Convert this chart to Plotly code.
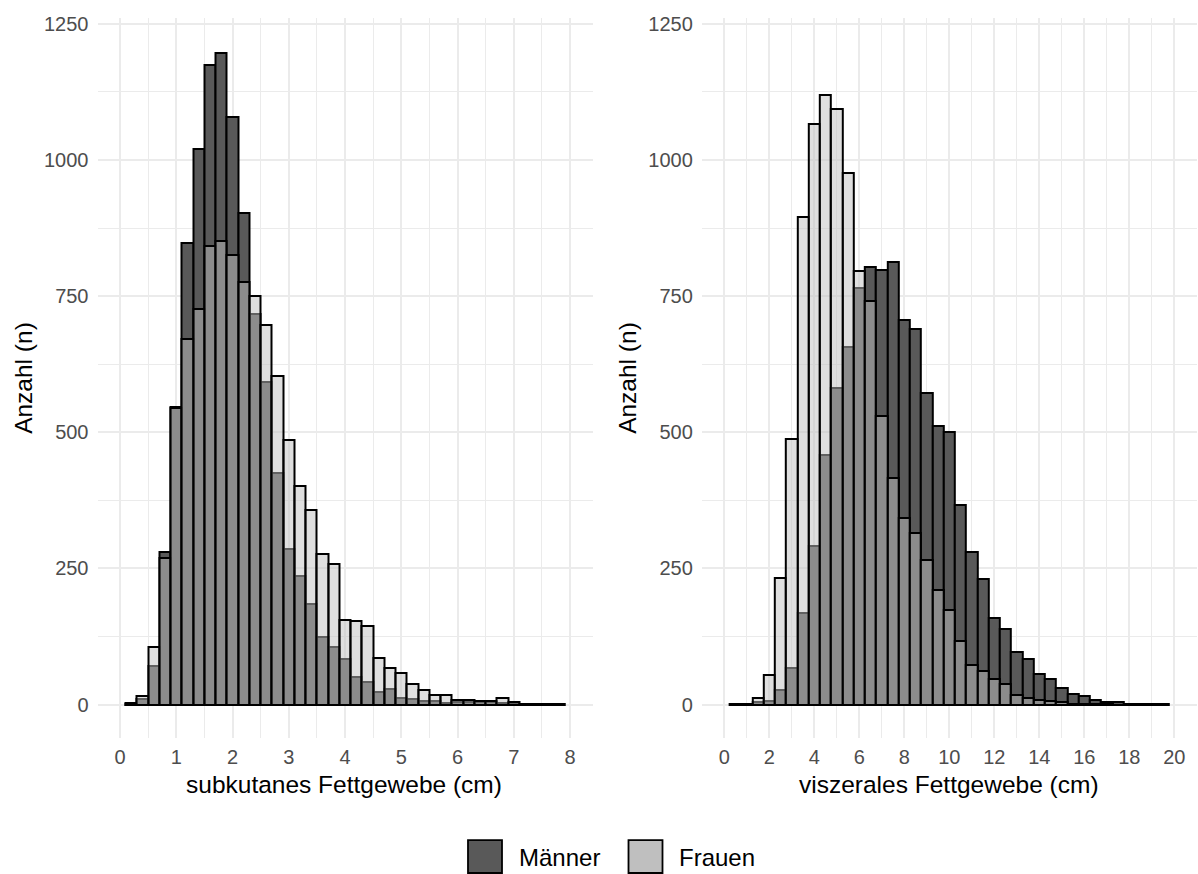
import plotly.graph_objects as go

# ---------------- data ----------------
# subkutanes Fettgewebe: bin centers (cm), bin width 0.2
sub_bins = [round(0.2 * i, 1) for i in range(1, 40)]
sub_maenner = [3, 10, 71, 280, 546, 847, 1021, 1175, 1196, 1079,
               902, 718, 592, 425, 286, 237, 185, 124, 106, 84,
               50, 42, 24, 28, 13, 10, 6, 7, 3, 5,
               5, 5, 4, 3, 1, 1, 1, 1, 1]
sub_frauen = [2, 15, 106, 269, 545, 672, 726, 843, 852, 825,
              777, 750, 698, 603, 486, 402, 357, 277, 258, 155,
              153, 144, 86, 68, 59, 38, 27, 18, 17, 8,
              9, 6, 6, 12, 4, 1, 1, 1, 1]

# viszerales Fettgewebe: bin centers (cm), bin width 0.5
vis_bins = [0.5 * i for i in range(1, 40)]
vis_maenner = [1, 1, 4, 6, 27, 67, 169, 291, 459, 581,
               656, 765, 803, 798, 813, 706, 689, 572, 512, 500,
               367, 280, 230, 159, 139, 97, 83, 56, 47, 31,
               19, 15, 9, 5, 4, 1, 1, 1, 1]
vis_frauen = [1, 1, 12, 55, 232, 488, 896, 1066, 1120, 1093,
              977, 797, 742, 530, 417, 342, 315, 265, 211, 173,
              117, 73, 62, 48, 38, 18, 13, 8, 7, 4,
              2, 1, 1, 1, 0, 0, 0, 0, 0]

sub_width = 0.2
vis_width = 0.5
x_titles = ["subkutanes Fettgewebe (cm)", "viszerales Fettgewebe (cm)"]
y_title = "Anzahl (n)"
legend_labels = ["Männer", "Frauen"]

# ---------------- styling ----------------
W, H = 1198, 874
FONT = "Liberation Sans, Arial, Helvetica, sans-serif"
MEN_FILL = "#595959"
WOMEN_FILL = "rgba(191,191,191,0.5)"
LEGEND_WOMEN = "#BFBFBF"
LINE = dict(color="black", width=2)
GRID = "#EBEBEB"

def px_x(x):
    return x / W

def px_y(y):
    return (H - y) / H

fig = go.Figure()

for xa, ya, bins, men, women, wd in [
    ("x", "y", sub_bins, sub_maenner, sub_frauen, sub_width),
    ("x2", "y2", vis_bins, vis_maenner, vis_frauen, vis_width),
]:
    fig.add_trace(go.Bar(x=bins, y=men, width=wd, xaxis=xa, yaxis=ya,
                         marker=dict(color=MEN_FILL, line=LINE),
                         name=legend_labels[0], showlegend=False))
    fig.add_trace(go.Bar(x=bins, y=women, width=wd, xaxis=xa, yaxis=ya,
                         marker=dict(color=WOMEN_FILL, line=LINE),
                         name=legend_labels[1], showlegend=False))

y_dom = [px_y(737), px_y(13)]
tickfont = dict(family=FONT, size=20, color="#4D4D4D")

common_y = dict(range=[-61, 1261], dtick=250, tick0=0, showgrid=True,
                gridcolor=GRID, gridwidth=1.8, zeroline=False, showline=False,
                ticks="", tickfont=tickfont, ticklabelstandoff=8,
                minor=dict(dtick=125, showgrid=True, gridcolor=GRID, gridwidth=1.4),
                domain=y_dom)

fig.update_layout(
    width=W, height=H,
    margin=dict(l=0, r=0, t=0, b=0),
    paper_bgcolor="white", plot_bgcolor="white",
    barmode="overlay", bargap=0,
    showlegend=False,
    font=dict(family=FONT),
    xaxis=dict(domain=[px_x(97.5), px_x(592.5)], range=[-0.4, 8.4],
               dtick=1, tick0=0, showgrid=True, gridcolor=GRID, gridwidth=1.8,
               zeroline=False, showline=False, ticks="", tickfont=tickfont,
               ticklabelstandoff=5, anchor="y",
               minor=dict(dtick=0.5, showgrid=True, gridcolor=GRID, gridwidth=1.4)),
    xaxis2=dict(domain=[px_x(701.8), px_x(1196.8)], range=[-1, 21],
                dtick=2, tick0=0, showgrid=True, gridcolor=GRID, gridwidth=1.8,
                zeroline=False, showline=False, ticks="", tickfont=tickfont,
                ticklabelstandoff=5, anchor="y2",
                minor=dict(dtick=1, showgrid=True, gridcolor=GRID, gridwidth=1.4)),
    yaxis=dict(anchor="x", **common_y),
    yaxis2=dict(anchor="x2", **common_y),
)

# axis titles
title_font = dict(family=FONT, size=24.5, color="black")
annotations = [
    dict(text=x_titles[0], x=px_x(344), y=px_y(784), xref="paper", yref="paper",
         xanchor="center", yanchor="middle", showarrow=False, font=title_font),
    dict(text=x_titles[1], x=px_x(949), y=px_y(784), xref="paper", yref="paper",
         xanchor="center", yanchor="middle", showarrow=False, font=title_font),
    dict(text=y_title, x=px_x(24), y=px_y(375), xref="paper", yref="paper",
         xanchor="center", yanchor="middle", showarrow=False, textangle=-90,
         font=title_font),
    dict(text=y_title, x=px_x(628), y=px_y(375), xref="paper", yref="paper",
         xanchor="center", yanchor="middle", showarrow=False, textangle=-90,
         font=title_font),
]

# custom legend (large keys like ggplot)
legend_items = [(legend_labels[0], MEN_FILL, 468, 517), (legend_labels[1], LEGEND_WOMEN, 628.5, 677)]
shapes = []
for label, col, bx, tx in legend_items:
    shapes.append(dict(type="rect", xref="paper", yref="paper",
                       x0=px_x(bx), x1=px_x(bx + 34), y0=px_y(873), y1=px_y(840),
                       fillcolor=col, line=dict(color="black", width=1.8)))
    annotations.append(dict(text=label, x=px_x(tx), y=px_y(857), xref="paper", yref="paper",
                            xanchor="left", yanchor="middle", showarrow=False,
                            font=dict(family=FONT, size=24, color="black")))

fig.update_layout(annotations=annotations, shapes=shapes)

fig.write_html("out.html")
